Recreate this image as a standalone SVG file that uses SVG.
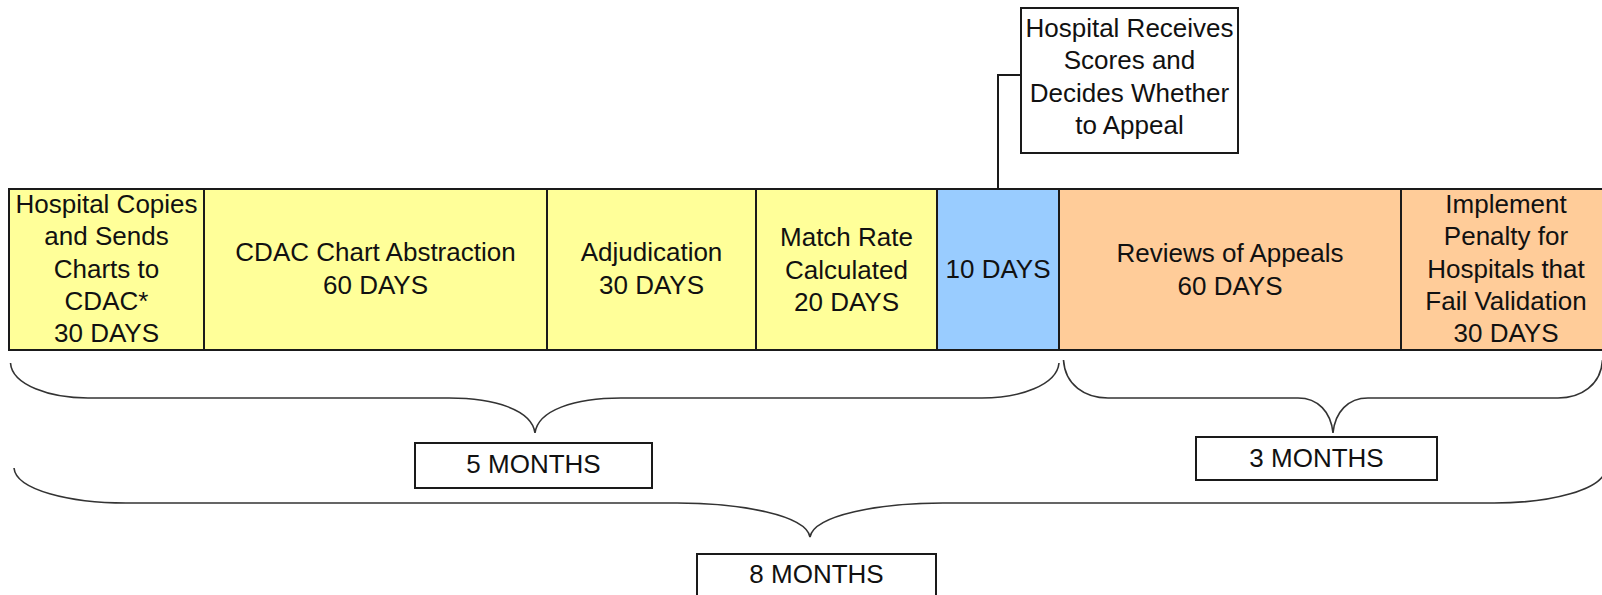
<svg xmlns="http://www.w3.org/2000/svg" width="1602" height="595" viewBox="0 0 1602 595">
<style>
.box{stroke:#1a1a1a;stroke-width:2}
.y{fill:#FFFF99}.b{fill:#99CCFF}.o{fill:#FFCC99}.w{fill:#FFFFFF}
text{font-family:"Liberation Sans",Arial,sans-serif;font-size:26px;fill:#111;text-anchor:middle}
.br{fill:none;stroke:#333;stroke-width:1.6}
.ln{fill:none;stroke:#1a1a1a;stroke-width:2}
</style>
<rect width="1602" height="595" fill="#fff"/>
<g id="connectors">
<path class="ln" d="M1021,75 H998 V189"/>
<path class="br" d="M10.5,363 C12,385 50,398 88,398 L449,398 C495,398 532,410 535,433 C538,410 575,398 621,398 L982,398 C1020,398 1057,385 1059,363"/>
<path class="br" d="M1063.5,360 C1065,385 1085,398 1108,398 L1298,398 C1318,398 1331,412 1333,433 C1335,412 1348,398 1368,398 L1558,398 C1581,398 1601,385 1602.5,360"/>
<path class="br" d="M14,468 C16,490 70,503 126,503 L677,503 C740,503 806,515 810,537 C814,515 880,503 943,503 L1494,503 C1550,503 1604,490 1606,468"/>
</g>
<g id="n1"><rect class="box y" x="9" y="189" width="195" height="161"/>
<text x="106.5" y="213">Hospital Copies</text><text x="106.5" y="245">and Sends</text><text x="106.5" y="278">Charts to</text><text x="106.5" y="310">CDAC*</text><text x="106.5" y="342">30 DAYS</text></g>
<g id="n2"><rect class="box y" x="204" y="189" width="343" height="161"/>
<text x="375.5" y="261">CDAC Chart Abstraction</text><text x="375.5" y="294">60 DAYS</text></g>
<g id="n3"><rect class="box y" x="547" y="189" width="209" height="161"/>
<text x="651.5" y="261">Adjudication</text><text x="651.5" y="294">30 DAYS</text></g>
<g id="n4"><rect class="box y" x="756" y="189" width="181" height="161"/>
<text x="846.5" y="246">Match Rate</text><text x="846.5" y="279">Calculated</text><text x="846.5" y="311">20 DAYS</text></g>
<g id="n5"><rect class="box b" x="937" y="189" width="122" height="161"/>
<text x="998" y="278">10 DAYS</text></g>
<g id="n6"><rect class="box o" x="1059" y="189" width="342" height="161"/>
<text x="1230" y="262">Reviews of Appeals</text><text x="1230" y="295">60 DAYS</text></g>
<g id="n7"><rect class="box o" x="1401" y="189" width="210" height="161"/>
<text x="1506" y="213">Implement</text><text x="1506" y="245">Penalty for</text><text x="1506" y="278">Hospitals that</text><text x="1506" y="310">Fail Validation</text><text x="1506" y="342">30 DAYS</text></g>
<g id="top"><rect class="box w" x="1021" y="8" width="217" height="145"/>
<text x="1129.5" y="37">Hospital Receives</text><text x="1129.5" y="69">Scores and</text><text x="1129.5" y="102">Decides Whether</text><text x="1129.5" y="134">to Appeal</text></g>
<g id="m5"><rect class="box w" x="415" y="443" width="237" height="45"/>
<text x="533.5" y="473">5 MONTHS</text></g>
<g id="m3"><rect class="box w" x="1196" y="437" width="241" height="43"/>
<text x="1316.5" y="467">3 MONTHS</text></g>
<g id="m8"><rect class="box w" x="697" y="554" width="239" height="45"/>
<text x="816.5" y="583">8 MONTHS</text></g>
</svg>
